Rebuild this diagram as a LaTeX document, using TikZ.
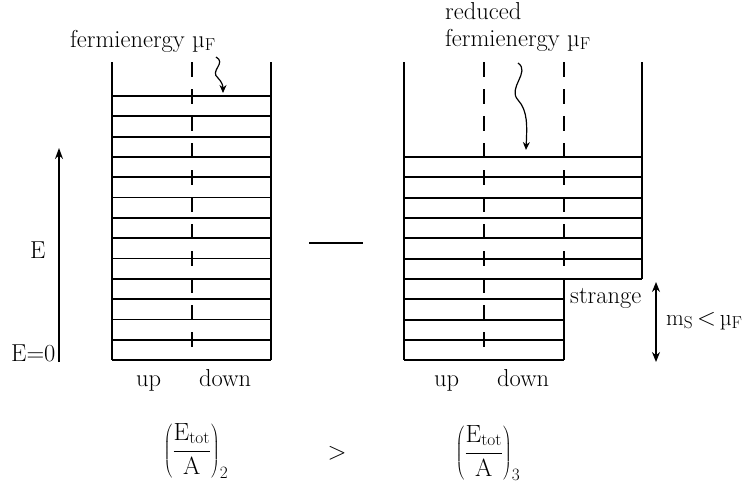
\documentclass[tikz,border=0pt]{standalone}
\usetikzlibrary{arrows.meta,calc}
\begin{document}
\begin{tikzpicture}[x=1pt,y=-1pt,
  wall/.style={line width=2.1pt},
  level/.style={line width=1.8pt},
  spin/.style={line width=1.9pt, dash pattern=on 15pt off 12pt},
  txt/.style={inner sep=0pt, font=\fontsize{24.5}{29}\selectfont},
  smt/.style={inner sep=0pt, font=\fontsize{23}{28}\selectfont},
  frm/.style={inner sep=0pt, font=\fontsize{24}{29}\selectfont},
  wavy/.style={line width=1.2pt, -{Stealth[length=8pt,width=7pt]}},
  axis/.style={line width=1.3pt, -{Stealth[length=11pt,width=8pt]}},
  dbl/.style={line width=1.3pt, {Stealth[length=10pt,width=8pt]}-{Stealth[length=10pt,width=8pt]}}]
\useasboundingbox (0,0) rectangle (745,485);

% ---- left box (two flavours) ----
\draw[wall] (112,62) -- (112,360);
\draw[wall] (271,62) -- (271,360);
\draw[spin] (192,62) -- (192,360);
\foreach \k in {0,...,13}
  \draw[level] (112,{96+\k*20.31}) -- (271,{96+\k*20.31});

% ---- right box (three flavours) ----
\draw[wall] (404,62) -- (404,360);
\draw[wall] (642,62) -- (642,279);
\draw[spin] (484,62) -- (484,360);
\draw[spin] (564,62) -- (564,279);
\draw[wall] (564,279) -- (564,360);
\foreach \k in {0,...,6}
  \draw[level] (404,{157+\k*20.33}) -- (642,{157+\k*20.33});
\foreach \k in {7,...,10}
  \draw[level] (404,{157+\k*20.33}) -- (564,{157+\k*20.33});

% ---- minus sign between boxes ----
\coordinate (m1) at (309,243);
\coordinate (m2) at (363,243);
\draw[line width=2pt] (m1) -- (m2);

% ---- labels top ----
\node[txt, anchor=base west] (fl) at (70,47) {fermienergy µ$_\mathrm{F}$};
\node[txt, anchor=base west] (red) at (445,19) {reduced};
\node[txt, anchor=base west] (fr) at (445,46) {fermienergy µ$_\mathrm{F}$};

\coordinate (w1s) at (216,57);
\coordinate (w1e) at (223,93);
\draw[wavy] (w1s) .. controls (227,63) and (209,71) .. (218,78)
                  .. controls (222,82) and (223,86) .. (w1e);
\coordinate (w2s) at (518,63);
\coordinate (w2e) at (526,150);
\draw[wavy] (w2s) .. controls (531,72) and (507,88) .. (518,100)
                  .. controls (528,111) and (527,126) .. (w2e);

% ---- energy axis ----
\coordinate (e0) at (59,362);
\coordinate (e1) at (59,148);
\draw[axis] (e0) -- (e1);
\node[txt, anchor=base west] (E) at (30,258) {E};
\node[txt, anchor=base west] (E0) at (11,361) {E=0};

% ---- up / down ----
\node[txt, anchor=base west] (u1) at (136,386) {up};
\node[txt, anchor=base west] (d1) at (199,386) {down};
\node[txt, anchor=base west] (u2) at (434,386) {up};
\node[txt, anchor=base west] (d2) at (497,386) {down};

% ---- strange ----
\node[txt, anchor=base west] (st) at (570,303) {strange};
\coordinate (s0) at (656,282);
\coordinate (s1) at (656,362);
\draw[dbl] (s0) -- (s1);
\node[smt, anchor=base west] (ms) at (666,325) {m$_\mathrm{S}$\,$<$\,µ$_\mathrm{F}$};

% ---- energies per baryon ----
\node[frm] (f2) at (196,451) {$\displaystyle\left(\frac{\mathrm{E}_{\mathrm{tot}}}{\mathrm{A}}\right)_{2}$};
\node[frm] (gt) at (337,453) {$>$};
\node[frm] (f3) at (488,453) {$\displaystyle\left(\frac{\mathrm{E}_{\mathrm{tot}}}{\mathrm{A}}\right)_{3}$};
\end{tikzpicture}
\end{document}
